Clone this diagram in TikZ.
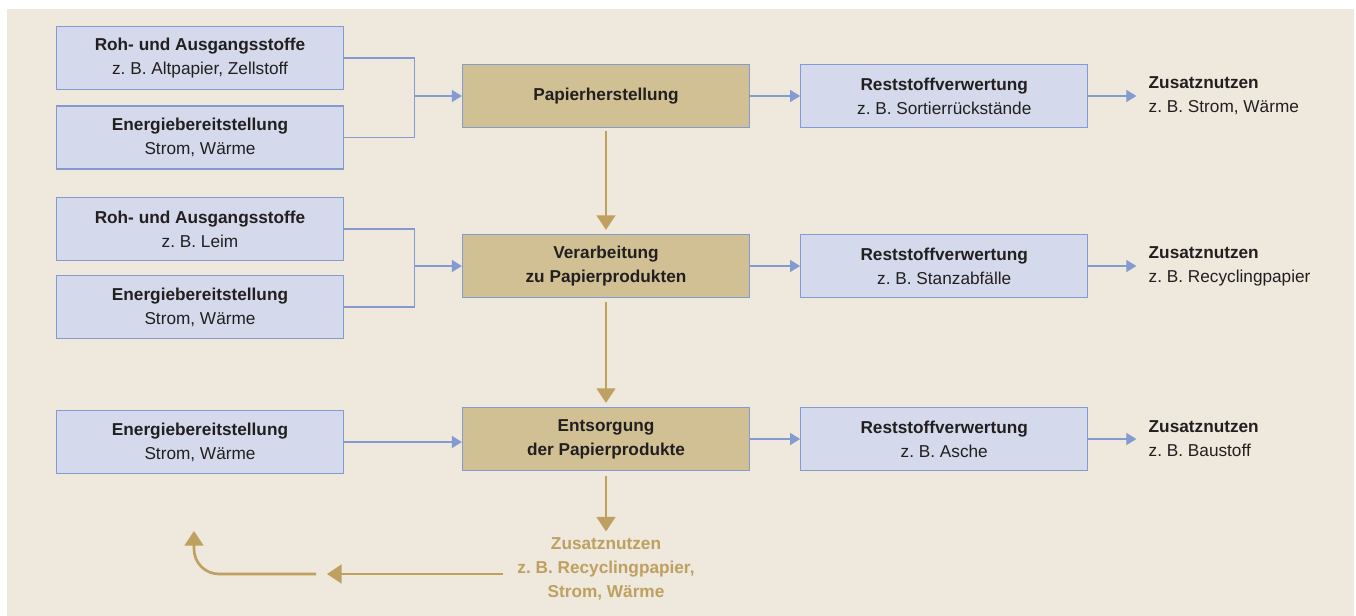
\documentclass[tikz,border=0pt]{standalone}
\usepackage{fontspec}
\setmainfont{Liberation Sans}
\usetikzlibrary{positioning,arrows.meta}
\definecolor{paperbg}{RGB}{238,232,221}
\definecolor{boxblue}{RGB}{212,217,236}
\definecolor{lineblue}{RGB}{132,155,210}
\definecolor{boxtan}{RGB}{209,192,147}
\definecolor{arrowtan}{RGB}{190,160,96}
\definecolor{textdark}{RGB}{35,31,32}
\newcommand{\boxfont}{\fontsize{9.8}{13.6}\selectfont\frenchspacing}

\begin{document}
\begin{tikzpicture}[x=0.2mm, y=-0.2mm, node distance=10mm, >={Triangle[length=2mm,width=2.4mm]},
  inbox/.style={draw=lineblue, line width=0.7pt, fill=boxblue, minimum width=57.4mm, minimum height=12.6mm, align=center, inner sep=0pt, font=\boxfont, text=textdark},
  procbox/.style={inbox, fill=boxtan, font=\boxfont\bfseries},
  gaintext/.style={align=left, inner sep=0pt, font=\boxfont, text=textdark},
  flow/.style={draw=lineblue, line width=0.7pt},
  mainflow/.style={draw=arrowtan, line width=1.5pt, -{Triangle[length=2.9mm,width=3.7mm]}}]
        \useasboundingbox (0,0) rectangle (1356,616);
        \fill[paperbg] (7,9) rectangle (1354,616);

        % Hauptschritte
        \node[procbox] (papier) at (606,96) {Papierherstellung};
        \node[procbox] (verarb) at (606,266) {Verarbeitung\\zu Papierprodukten};
        \node[procbox] (entsorg) at (606,439) {Entsorgung\\der Papierprodukte};

        % Eingaenge
        \node[inbox] (rohone) at (200,58) {\textbf{Roh- und Ausgangsstoffe}\\z. B. Altpapier, Zellstoff};
        \node[inbox] (energone) at (200,137.5) {\textbf{Energiebereitstellung}\\Strom, Wärme};
        \node[inbox] (rohtwo) at (200,229) {\textbf{Roh- und Ausgangsstoffe}\\z. B. Leim};
        \node[inbox] (energtwo) at (200,307) {\textbf{Energiebereitstellung}\\Strom, Wärme};
        \node[inbox] (energthree) at (200,442) {\textbf{Energiebereitstellung}\\Strom, Wärme};

        % Reststoffe
        \node[inbox, right=of papier] (restone) {\textbf{Reststoffverwertung}\\z. B. Sortierrückstände};
        \node[inbox, right=of verarb] (resttwo) {\textbf{Reststoffverwertung}\\z. B. Stanzabfälle};
        \node[inbox, right=of entsorg] (restthree) {\textbf{Reststoffverwertung}\\z. B. Asche};
        \node[gaintext, right=12mm of restone] (nutzone) {\textbf{Zusatznutzen}\\z. B. Strom, Wärme};
        \node[gaintext, right=12mm of resttwo] (nutztwo) {\textbf{Zusatznutzen}\\z. B. Recyclingpapier};
        \node[gaintext, right=12mm of restthree] (nutzthree) {\textbf{Zusatznutzen}\\z. B. Baustoff};

        \draw[flow] (rohone.east) -- ++(70,0) coordinate (jone) |- (energone.east);
        \draw[flow, ->] (jone |- papier.west) -- (papier.west);
        \draw[flow] (rohtwo.east) -- ++(70,0) coordinate (jtwo) |- (energtwo.east);
        \draw[flow, ->] (jtwo |- verarb.west) -- (verarb.west);
        \draw[flow, ->] (energthree.east) -- (energthree.east -| entsorg.west);

        \draw[flow, ->] (papier) -- (restone);
        \draw[flow, ->] (verarb) -- (resttwo);
        \draw[flow, ->] (entsorg) -- (restthree);
        \draw[flow, ->, shorten >=2.4mm] (restone) -- (nutzone);
        \draw[flow, ->, shorten >=2.4mm] (resttwo) -- (nutztwo);
        \draw[flow, ->, shorten >=2.4mm] (restthree) -- (nutzthree);

        \draw[mainflow, shorten <=0.6mm, shorten >=0.8mm] (papier) -- (verarb);
        \draw[mainflow, shorten <=0.8mm, shorten >=0.8mm] (verarb) -- (entsorg);

        % Rueckfuehrung
        \node[align=center, inner sep=0pt, font=\boxfont\bfseries, text=arrowtan] (nutzen) at (606,569) {Zusatznutzen\\z. B. Recyclingpapier,\\Strom, Wärme};
        \draw[mainflow, shorten <=1mm, shorten >=1.2mm] (entsorg) -- (nutzen);
        \coordinate (backtip) at (327,574);
        \coordinate (backstart) at (316,574);
        \coordinate (backup) at (194,531);
        \draw[mainflow, shorten <=2.8mm] (nutzen.west |- backtip) -- (backtip);
        \draw[mainflow, rounded corners=5mm] (backstart) -| (backup);
    \end{tikzpicture}
\end{document}
